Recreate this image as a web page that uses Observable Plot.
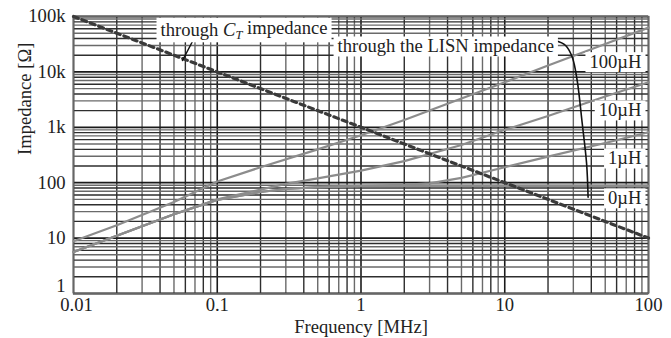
<!DOCTYPE html>
<html><head><meta charset="utf-8">
<script src="https://cdn.jsdelivr.net/npm/d3@7"></script>
<script src="https://cdn.jsdelivr.net/npm/@observablehq/plot@0.6"></script>
<style>body{margin:0;background:#fff}</style>
</head><body><div id="chart"></div>
<script>
// ---- data ----
const xTickValues = [0.01, 0.1, 1, 10, 100];
const xTickLabels = ["0.01", "0.1", "1", "10", "100"];
const yTickValues = [1, 10, 100, 1000, 10000, 100000];
const yTickLabels = ["1", "10", "100", "1k", "10k", "100k"];

// through C_T impedance (dashed)
const fCT = [0.01, 0.1, 1, 10, 100];
const zCT = [100000, 10000, 1000, 100, 10];

// through the LISN impedance, with series inductance
const f0 = [0.01, 0.02, 0.05, 0.1, 0.2, 0.3, 0.5, 1, 3, 10, 30, 100];
const z0 = [5.6, 11, 27, 49, 68, 77, 83, 87, 88, 88, 88, 88];

const f1 = [0.01, 0.02, 0.05, 0.1, 0.2, 0.3, 0.5, 1, 2, 3, 5, 10, 20, 50, 100];
const z1 = [5.6, 11, 27, 49, 68, 77, 83, 88, 91, 97, 122, 190, 295, 520, 815];

const f10 = [0.01, 0.02, 0.05, 0.1, 0.2, 0.3, 0.5, 1, 2, 5, 10, 20, 50, 100];
const z10 = [5.6, 11, 27, 50, 75, 95, 120, 165, 245, 480, 900, 1600, 3600, 6500];

const f100 = [0.01, 0.02, 0.05, 0.1, 0.2, 0.5, 1, 2, 5, 10, 20, 50, 100];
const z100 = [8.8, 17, 45, 105, 190, 400, 720, 1350, 3300, 6500, 13000, 32000, 63000];

const seriesNames = ["0µH", "1µH", "10µH", "100µH"];
const labelCT = "through CT impedance";
const labelLISN = "through the LISN impedance";

// ---- build tables ----
const ctRows = fCT.map((f, i) => ({f, z: zCT[i]}));
const lisnRows = [[f0, z0], [f1, z1], [f10, z10], [f100, z100]]
  .flatMap(([fs, zs], k) => fs.map((f, i) => ({f, z: zs[i], s: seriesNames[k]})));
const xFmt = new Map(xTickValues.map((v, i) => [v, xTickLabels[i]]));
const yFmt = new Map(yTickValues.map((v, i) => [v, yTickLabels[i]]));

// grid values (1..9 per decade)
const gridX = [], gridY = [];
for (const d of [0.01, 0.1, 1, 10]) for (let k = 1; k <= 9; k++) gridX.push({v: +(d * k).toPrecision(3), k});
gridX.push({v: 100, k: 1});
for (const d of [1, 10, 100, 1000, 10000]) for (let k = 1; k <= 9; k++) gridY.push({v: d * k, k});
gridY.push({v: 100000, k: 1});
const gridColor = d => d.k === 1 ? "#1a1a1a" : (d.k % 2 === 0 ? "#2e2e2e" : "#6a6a6a");

// annotation anchors (data coordinates)
const leftLabels = [
  {text: labelCT, f: 0.0403, z: 58000},
  {text: labelLISN, f: 0.687, z: 28700}
];
const rightLabels = [
  {text: "100µH", f: 89.4, z: 14960},
  {text: "10µH", f: 89.4, z: 2010},
  {text: "1µH", f: 89.4, z: 273},
  {text: "0µH", f: 89.4, z: 52}
];
const leaderCT = [{f: 0.0707, z: 45400}, {f: 0.0573, z: 16060}];
const leaderLISN = [
  {f: 22.5, z: 36900}, {f: 26.5, z: 30000}, {f: 29.5, z: 18400}, {f: 31.9, z: 7000},
  {f: 34.6, z: 1170}, {f: 37.1, z: 222}, {f: 38.0, z: 54.7}
];

const FS = 18.6;
const chart = Plot.plot({
  width: 671,
  height: 338,
  marginLeft: 73,
  marginRight: 23,
  marginTop: 16,
  marginBottom: 45,
  style: {fontFamily: "'Liberation Serif', 'Times New Roman', serif", fontSize: FS + "px", background: "#fff", color: "#222"},
  x: {type: "log", domain: [0.01, 100], ticks: xTickValues, tickFormat: d => xFmt.get(d), tickSize: 0, tickPadding: 4, label: null},
  y: {type: "log", domain: [1, 100000], ticks: yTickValues, tickFormat: d => yFmt.get(d), tickSize: 0, tickPadding: 8, label: null},
  marks: [
    Plot.ruleX(gridX, {x: "v", stroke: gridColor, strokeWidth: d => d.k === 1 ? 1.6 : 1.4}),
    Plot.ruleY(gridY, {y: "v", stroke: gridColor, strokeWidth: d => d.k === 1 ? 1.8 : 1.4}),
    Plot.frame({stroke: "#666", strokeWidth: 1.5}),
    Plot.text(["Frequency [MHz]"], {frameAnchor: "bottom", dy: 39, fontSize: FS, fill: "#222"}),
    Plot.text(["Impedance [Ω]"], {frameAnchor: "left", dx: -48, rotate: -90, fontSize: FS, fill: "#222"}),
    Plot.line(lisnRows, {x: "f", y: "z", z: "s", stroke: "#8c8c8c", strokeWidth: 2.2}),
    Plot.line(ctRows, {x: "f", y: "z", stroke: "#3a3a3a", strokeWidth: 3.2, strokeDasharray: "5,4"}),
    Plot.line(leaderCT, {x: "f", y: "z", stroke: "#111", strokeWidth: 1.5}),
    Plot.line(leaderLISN, {x: "f", y: "z", stroke: "#111", strokeWidth: 1.6, curve: "catmull-rom"}),
    Plot.text(leftLabels, {x: "f", y: "z", text: "text", textAnchor: "start", fontSize: FS, fill: "#222"}),
    Plot.text(rightLabels, {x: "f", y: "z", text: "text", textAnchor: "end", fontSize: FS, fill: "#222"})
  ]
});
document.getElementById("chart").appendChild(chart);

const svg = d3.select(chart);
// nudge the two corner tick labels apart, as in the reference
svg.selectAll("text").each(function() {
  const g = this.closest("g[aria-label]");
  if (!g) return;
  const role = g.getAttribute("aria-label");
  const tr = this.getAttribute("transform") || "";
  if (role === "y-axis tick label" && this.textContent === "1") this.setAttribute("transform", tr + " translate(0,-7)");
  if (role === "x-axis tick label" && this.textContent === "0.01") this.setAttribute("transform", tr + " translate(3,0)");
});

const boxTexts = new Set([...leftLabels, ...rightLabels].map(d => d.text));
const targets = [];
svg.selectAll("text").each(function() {
  if (boxTexts.has(this.textContent)) targets.push(this);
});
// italic C with subscript T in the C_T label
for (const el of targets) {
  if (el.textContent === labelCT) {
    const t = d3.select(el);
    t.text(null);
    t.append("tspan").text("through ");
    t.append("tspan").attr("font-style", "italic").text("C");
    t.append("tspan").attr("font-style", "italic").attr("font-size", "12.5px").attr("dy", "0.3em").text("T");
    t.append("tspan").attr("dy", "-0.3em").text(" impedance");
  }
}
// white boxes behind the labels
for (const el of targets) {
  const b = el.getBBox();
  const tr = el.getAttribute("transform");
  const r = document.createElementNS("http://www.w3.org/2000/svg", "rect");
  r.setAttribute("x", b.x - 4); r.setAttribute("y", b.y + 1);
  r.setAttribute("width", b.width + 8); r.setAttribute("height", b.height - 1);
  r.setAttribute("fill", "#fff"); r.setAttribute("stroke", "none");
  if (tr) r.setAttribute("transform", tr);
  el.parentNode.insertBefore(r, el);
}
</script></body></html>
